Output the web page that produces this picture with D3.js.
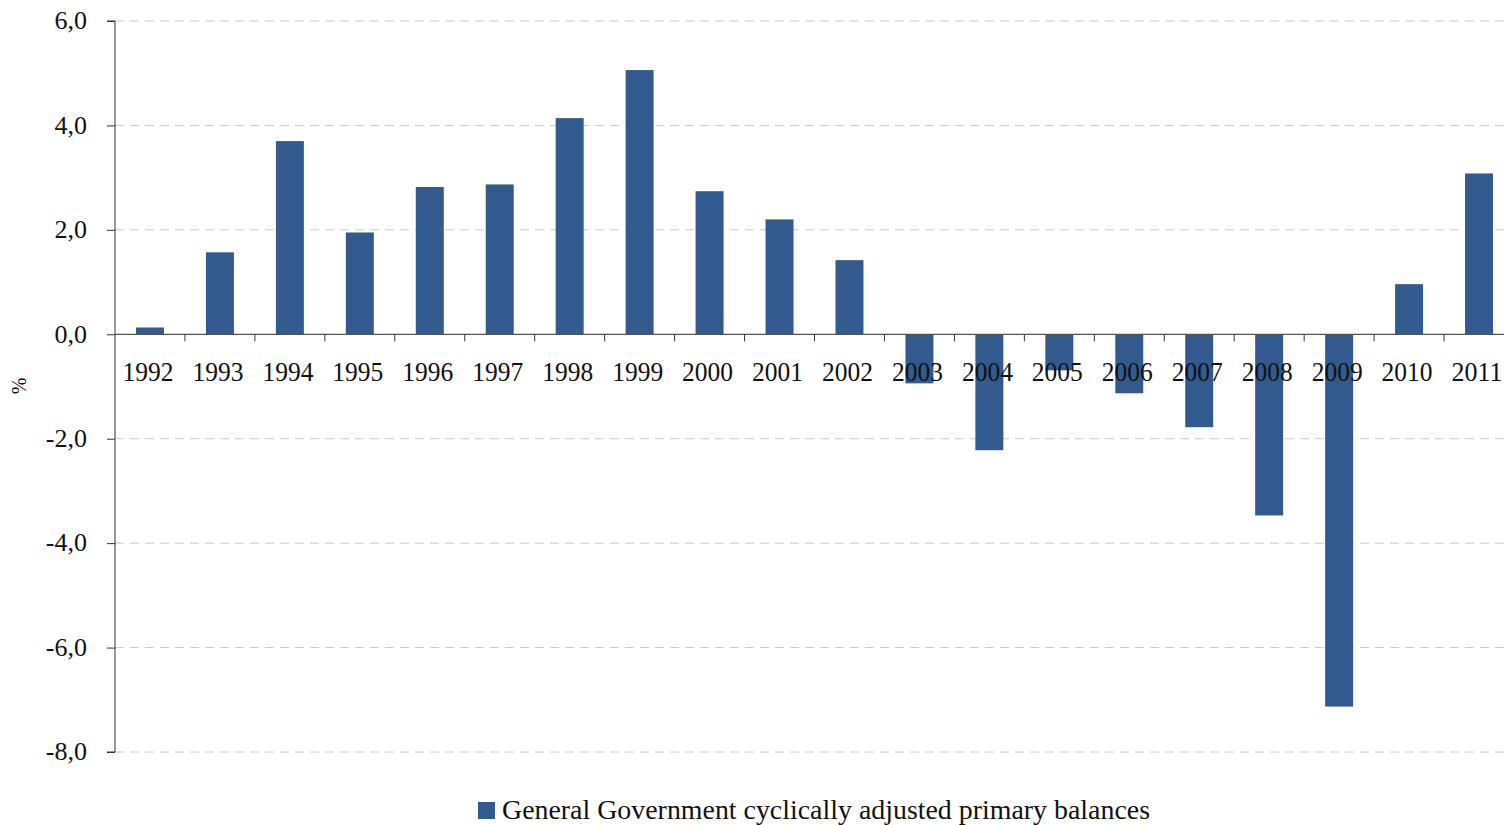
<!DOCTYPE html>
<html>
<head>
<meta charset="utf-8">
<script src="https://cdn.jsdelivr.net/npm/d3@7"></script>
<style>
  html, body { margin: 0; padding: 0; background: #fff; }
  svg { display: block; }
  text { font-family: "Liberation Serif", "DejaVu Serif", serif; fill: #111; }
</style>
</head>
<body>
<svg id="chart" width="1504" height="825"></svg>
<script>
// Cyclically adjusted primary balance, % by year
const years = ["1992","1993","1994","1995","1996","1997","1998","1999","2000","2001",
               "2002","2003","2004","2005","2006","2007","2008","2009","2010","2011"];
const balances = [0.13, 1.57, 3.70, 1.95, 2.82, 2.87, 4.14, 5.06, 2.74, 2.20,
                  1.42, -0.94, -2.22, -0.69, -1.13, -1.78, -3.47, -7.13, 0.96, 3.08];
const yTicks = [6, 4, 2, 0, -2, -4, -6, -8];
const seriesName = "General Government cyclically adjusted primary balances";
const barColor = "#325a8f";

const svg = d3.select("#chart");
const plotLeft = 115, plotRight = 1514, plotTop = 21, plotBottom = 752;

const x = d3.scaleBand().domain(years).range([plotLeft, plotRight]).paddingInner(0.6).paddingOuter(0.3);
const step = x.step();
const y = d3.scaleLinear().domain([-8, 6]).range([plotBottom, plotTop]);
const fmt = v => d3.format(".1f")(v).replace(".", ",").replace("−", "-");

// horizontal dashed gridlines
svg.append("g").selectAll("line").data(yTicks.filter(v => v !== 0)).join("line")
  .attr("x1", plotLeft).attr("x2", 1504)
  .attr("y1", d => y(d)).attr("y2", d => y(d))
  .attr("stroke", "#c8c8c8").attr("stroke-width", 1).attr("stroke-dasharray", "9,6");

// bars
svg.append("g").selectAll("rect").data(years).join("rect")
  .attr("x", (d) => x(d))
  .attr("width", x.bandwidth())
  .attr("y", (d, i) => y(Math.max(0, balances[i])))
  .attr("height", (d, i) => Math.abs(y(balances[i]) - y(0)))
  .attr("fill", barColor);

// y axis
const yAxis = d3.axisLeft(y).tickValues(yTicks).tickFormat(fmt).tickSize(8).tickPadding(20);
const gy = svg.append("g").attr("transform", `translate(${plotLeft},0)`).call(yAxis);
gy.select(".domain").attr("stroke", "#333").attr("d", `M-8,${plotTop}H0V${plotBottom}H-8`);
gy.selectAll(".tick line").attr("stroke", "#333");
gy.selectAll(".tick text").attr("font-size", 26).attr("fill", "#111")
  .attr("font-family", "Liberation Serif").attr("dy", "0.3em");

// zero baseline with band-boundary ticks
const gx = svg.append("g").attr("transform", `translate(0,${y(0)})`);
gx.append("line").attr("x1", plotLeft).attr("x2", 1504).attr("y1", 0).attr("y2", 0)
  .attr("stroke", "#555").attr("stroke-width", 1.2);
gx.selectAll("line.tk").data(d3.range(1, years.length)).join("line").attr("class", "tk")
  .attr("x1", i => plotLeft + i * step).attr("x2", i => plotLeft + i * step)
  .attr("y1", 0).attr("y2", 7).attr("stroke", "#333");
gx.selectAll("text").data(years).join("text")
  .attr("x", d => x(d) + x.bandwidth() / 2 - 2)
  .attr("y", 47)
  .attr("text-anchor", "middle")
  .attr("font-size", 27)
  .attr("textLength", 51).attr("lengthAdjust", "spacingAndGlyphs")
  .text(d => d);

// axis title
svg.append("text")
  .attr("transform", `translate(26,386) rotate(-90)`)
  .attr("text-anchor", "middle")
  .attr("font-size", 20)
  .text("%");

// legend
const lg = svg.append("g").attr("transform", "translate(478,802)");
lg.append("rect").attr("x", 0).attr("y", 0).attr("width", 17).attr("height", 17).attr("fill", barColor);
lg.append("text").attr("x", 24).attr("y", 17)
  .attr("font-family", "Liberation Serif")
  .attr("font-size", 27)
  .attr("textLength", 648).attr("lengthAdjust", "spacingAndGlyphs")
  .text(seriesName);
</script>
</body>
</html>
